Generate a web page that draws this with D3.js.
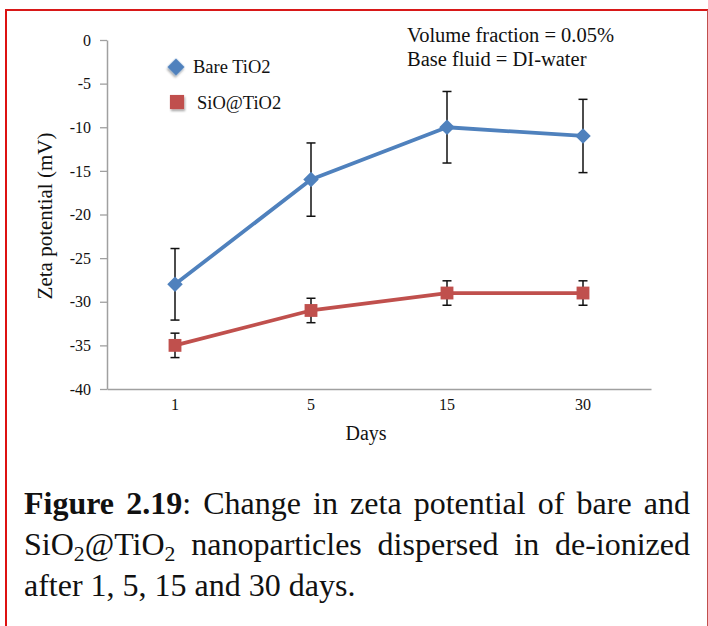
<!DOCTYPE html>
<html>
<head>
<meta charset="utf-8">
<script src="https://cdn.jsdelivr.net/npm/d3@7"></script>
<style>
  html, body { margin: 0; padding: 0; background: #fff; }
  svg { display: block; }
</style>
</head>
<body>
<script>
// Zeta potential over storage time (mean ± error), two particle types
const days = ["1", "5", "15", "30"];
const bareTiO2 = [-28, -16, -10, -11];
const bareErr = [4.1, 4.2, 4.1, 4.2];
const sioTiO2 = [-35, -31, -29, -29];
const sioErr = [1.4, 1.4, 1.4, 1.4];
const yTicks = [0, -5, -10, -15, -20, -25, -30, -35, -40];
const seriesNames = ["Bare TiO2", "SiO@TiO2"];
const noteLines = ["Volume fraction = 0.05%", "Base fluid = DI-water"];

const W = 708, H = 626;
const serif = "'Liberation Serif', 'Times New Roman', serif";
const blue = "#4f81bd", red = "#c0504d";

const svg = d3.select("body").append("svg")
  .attr("width", W).attr("height", H)
  .style("font-family", serif);

const defs = svg.append("defs");
defs.append("filter").attr("id", "mkshadow")
  .attr("x", "-50%").attr("y", "-50%").attr("width", "200%").attr("height", "200%")
  .append("feDropShadow")
  .attr("dx", 1).attr("dy", 2).attr("stdDeviation", 1.3)
  .attr("flood-color", "#000").attr("flood-opacity", 0.35);

// frame around figure + caption
svg.append("line").attr("x1", 6).attr("x2", 6).attr("y1", 9).attr("y2", H)
  .attr("stroke", "#dd1111").attr("stroke-width", 2);
svg.append("line").attr("x1", 5).attr("x2", 708).attr("y1", 10).attr("y2", 10)
  .attr("stroke", "#d81818").attr("stroke-width", 2);
svg.append("line").attr("x1", 707.5).attr("x2", 707.5).attr("y1", 10).attr("y2", H)
  .attr("stroke", "#c0504d").attr("stroke-width", 1);

// scales
const x = d3.scaleBand().domain(days).range([107, 651]).padding(0);
const y = d3.scaleLinear().domain([-40, 0]).range([389, 40]);
const cx = d => x(d) + x.bandwidth() / 2;

// y axis
const yAxis = svg.append("g").attr("transform", "translate(107,0)")
  .call(d3.axisLeft(y).tickValues(yTicks).tickFormat(d => String(d))
    .tickSize(7).tickSizeOuter(0).tickPadding(9));
yAxis.select(".domain").attr("stroke", "#a0a0a0").attr("stroke-width", 1.5);
yAxis.selectAll(".tick line").attr("stroke", "#a0a0a0").attr("stroke-width", 1.3);
yAxis.selectAll(".tick text").attr("fill", "#111").style("font-family", serif).style("font-size", "16px");

// x axis
const xAxis = svg.append("g").attr("transform", "translate(0,389)")
  .call(d3.axisBottom(x).tickSize(0).tickSizeOuter(0).tickPadding(10));
xAxis.select(".domain").attr("stroke", "#a0a0a0").attr("stroke-width", 1.5);
xAxis.selectAll(".tick text").attr("fill", "#111").style("font-family", serif).style("font-size", "16px");

// axis titles
svg.append("text").attr("x", 366).attr("y", 440).attr("text-anchor", "middle")
  .style("font-size", "20px").attr("fill", "#111").text("Days");
svg.append("text")
  .attr("transform", "translate(45,216) rotate(-90)")
  .attr("text-anchor", "middle").attr("dominant-baseline", "central")
  .style("font-size", "21px").attr("fill", "#111").text("Zeta potential (mV)");

// series
const series = [
  { name: seriesNames[0], vals: bareTiO2, err: bareErr, color: blue, shape: "diamond" },
  { name: seriesNames[1], vals: sioTiO2, err: sioErr, color: red, shape: "square" }
];

const line = d3.line().x((d, i) => cx(days[i])).y(d => y(d));
const diamond = d3.symbol().type(d3.symbolSquare).size(120);
const square = d3.symbol().type(d3.symbolSquare).size(165);

series.forEach(s => {
  const g = svg.append("g");
  g.append("path").datum(s.vals).attr("d", line)
    .attr("fill", "none").attr("stroke", s.color).attr("stroke-width", 3.8)
    .attr("stroke-linejoin", "round");
  // error bars
  const eb = g.selectAll(".eb").data(s.vals).enter().append("g");
  eb.append("line")
    .attr("x1", (d, i) => cx(days[i])).attr("x2", (d, i) => cx(days[i]))
    .attr("y1", (d, i) => y(d + s.err[i])).attr("y2", (d, i) => y(d - s.err[i]))
    .attr("stroke", "#111").attr("stroke-width", 1.5);
  [1, -1].forEach(sg => {
    eb.append("line")
      .attr("x1", (d, i) => cx(days[i]) - 4.5).attr("x2", (d, i) => cx(days[i]) + 4.5)
      .attr("y1", (d, i) => y(d + sg * s.err[i])).attr("y2", (d, i) => y(d + sg * s.err[i]))
      .attr("stroke", "#111").attr("stroke-width", 1.5);
  });
  // markers
  g.selectAll(".mk").data(s.vals).enter().append("path")
    .attr("d", s.shape === "diamond" ? diamond : square)
    .attr("transform", (d, i) => `translate(${cx(days[i])},${y(d)})` + (s.shape === "diamond" ? " rotate(45)" : ""))
    .attr("fill", s.color);
});

// legend
const legend = [
  { s: series[0], mx: 176, my: 67, tx: 193, ty: 73, sym: d3.symbol().type(d3.symbolSquare).size(150), rot: 45 },
  { s: series[1], mx: 177, my: 102, tx: 197, ty: 109, sym: d3.symbol().type(d3.symbolSquare).size(200), rot: 0 }
];
legend.forEach(l => {
  svg.append("path").attr("d", l.sym)
    .attr("transform", `translate(${l.mx},${l.my}) rotate(${l.rot})`)
    .attr("fill", l.s.color).attr("filter", "url(#mkshadow)");
  svg.append("text").attr("x", l.tx).attr("y", l.ty)
    .style("font-size", "18.5px").attr("fill", "#111").text(l.s.name);
});

// conditions note
svg.append("g").selectAll("text").data(noteLines).enter().append("text")
  .attr("x", 407).attr("y", (d, i) => 42 + i * 24)
  .style("font-size", "20.5px").attr("fill", "#111").text(d => d);

// caption, justified
const capSize = 32;
const capLeft = 24, capRight = 690;
const captionLines = [
  { y: 514, justify: true, words: [
    [{ t: "Figure", b: true }], [{ t: "2.19", b: true }, { t: ":" }], [{ t: "Change" }], [{ t: "in" }],
    [{ t: "zeta" }], [{ t: "potential" }], [{ t: "of" }], [{ t: "bare" }], [{ t: "and" }]
  ]},
  { y: 555, justify: true, words: [
    [{ t: "SiO" }, { t: "2", sub: true }, { t: "@TiO" }, { t: "2", sub: true }], [{ t: "nanoparticles" }],
    [{ t: "dispersed" }], [{ t: "in" }], [{ t: "de-ionized" }]
  ]},
  { y: 596, justify: false, words: [
    [{ t: "after" }], [{ t: "1," }], [{ t: "5," }], [{ t: "15" }], [{ t: "and" }], [{ t: "30" }], [{ t: "days." }]
  ]}
];

const cap = svg.append("g").attr("fill", "#111");
captionLines.forEach(ln => {
  const items = ln.words.map(runs => {
    const t = cap.append("text").style("font-size", capSize + "px");
    runs.forEach((r, k) => {
      const sp = t.append("tspan").text(r.t);
      if (r.b) sp.attr("font-weight", "bold");
      if (r.sub) sp.style("font-size", (capSize * 0.68) + "px").attr("dy", capSize * 0.2);
      else if (k > 0 && runs[k - 1].sub) sp.attr("dy", -capSize * 0.2);
    });
    return { t, w: t.node().getComputedTextLength() };
  });
  const total = d3.sum(items, d => d.w);
  const gap = ln.justify ? (capRight - capLeft - total) / (items.length - 1) : capSize * 0.25;
  let xPos = capLeft;
  items.forEach(it => {
    it.t.attr("x", xPos).attr("y", ln.y);
    xPos += it.w + gap;
  });
});
</script>
</body>
</html>
